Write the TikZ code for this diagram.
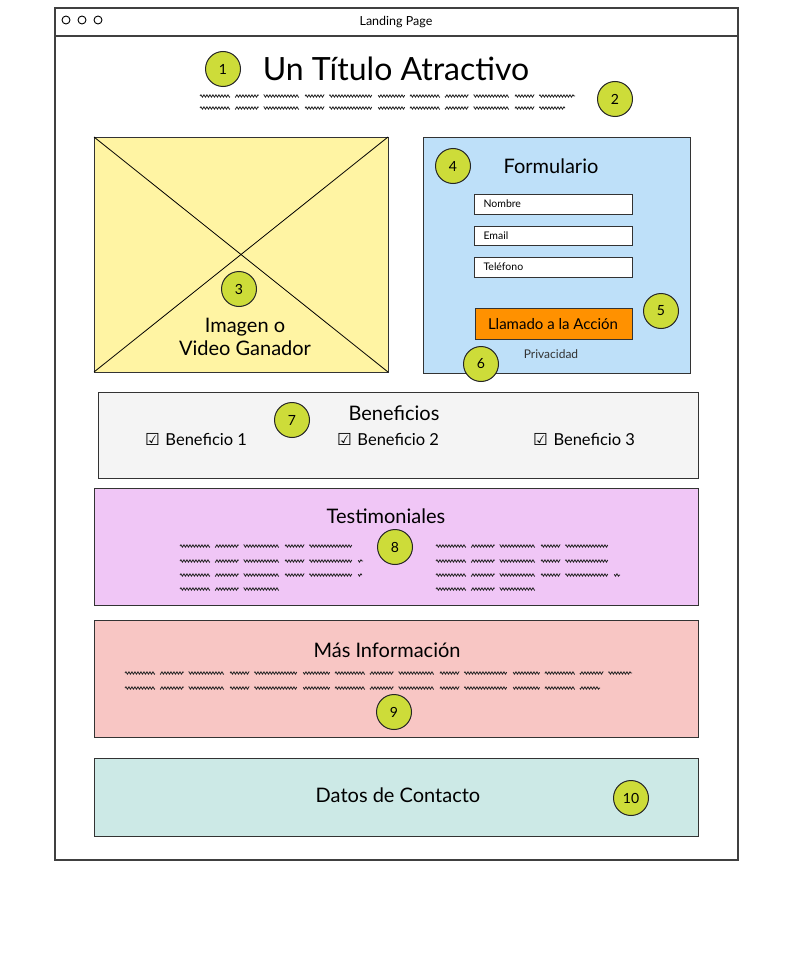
\documentclass[tikz,border=0pt]{standalone}
\usepackage{fontspec}
\setmainfont{Lato}
\newfontfamily\symfont{DejaVu Sans}
\usetikzlibrary{decorations.pathmorphing}
\definecolor{badgegreen}{HTML}{CDDC39}
\definecolor{imgyellow}{HTML}{FFF4A3}
\definecolor{formblue}{HTML}{BEE0F9}
\definecolor{ctaorange}{HTML}{FF9100}
\definecolor{benefgray}{HTML}{F4F4F4}
\definecolor{testipink}{HTML}{F0C6F6}
\definecolor{inforose}{HTML}{F8C6C4}
\definecolor{contactmint}{HTML}{CCE9E6}
\begin{document}
\begin{tikzpicture}[x=1pt,y=-1pt,
    box/.style={draw=black!80,line width=1pt},
    badge/.style={circle,draw=black!85,fill=badgegreen,line width=1pt,
      minimum size=35pt,inner sep=0pt,font=\fontsize{14}{14}\selectfont},
    field/.style={box,fill=white},
    scribble/.style={draw=black!85,line width=0.8pt,decorate,
      decoration={snake,amplitude=1.2pt,segment length=3pt},
      dash pattern=on 56pt off 10pt on 44pt off 10pt on 66pt off 12pt on 36pt off 10pt on 80pt off 12pt on 50pt off 10pt},
    heading/.style={font=\fontsize{20}{23}\selectfont},
    small/.style={font=\fontsize{10.5}{12}\selectfont}]
  \useasboundingbox (0,0) rectangle (786,955);
  \fill[white] (0,0) rectangle (786,955);
  \draw[line width=1.4pt,black!75] (55,8) rectangle (738,860);
  \draw[line width=1.4pt,black!75] (55,36) -- (738,36);
  \foreach \x in {66,82,98}
    \draw[line width=0.9pt] (\x,20) circle (4);
  \node[font=\fontsize{12.5}{14}\selectfont] (pagetitle) at (396,22) {Landing Page};
  \node[font=\fontsize{32}{36}\selectfont] (title) at (396,69) {Un Título Atractivo};
  \node[badge] (badge1) at (223,69) {1};
  \draw[scribble] (200,96) -- (575,96);
  \draw[scribble] (200,108) -- (565,108);
  \node[badge] (badge2) at (615,99) {2};
  \draw[box,fill=imgyellow] (94,137) rectangle (388,372);
  \draw[line width=0.8pt] (94,137) -- (388,372);
  \draw[line width=0.8pt] (94,372) -- (388,137);
  \node[badge] (badge3) at (239,289) {3};
  \node[heading,align=center] (media) at (245,337) {Imagen o\\Video Ganador};
  \draw[box,fill=formblue] (423,137) rectangle (690,373);
  \node[badge] (badge4) at (453,166) {4};
  \node[heading] (formtitle) at (551,166) {Formulario};
  \draw[field] (474,194) rectangle (632,214);
  \node[anchor=west,small] (name) at (480,204) {Nombre};
  \draw[field] (474,226) rectangle (632,245);
  \node[anchor=west,small] (mail) at (480,236) {Email};
  \draw[field] (474,257) rectangle (632,277);
  \node[anchor=west,small] (phone) at (480,267) {Teléfono};
  \draw[box,fill=ctaorange] (475,308) rectangle (632,339);
  \node[font=\fontsize{15}{17}\selectfont] (cta) at (553,324) {Llamado a la Acción};
  \node[badge] (badge5) at (661,311) {5};
  \node[font=\fontsize{12}{14}\selectfont,text=black!80] (privacy) at (551,354) {Privacidad};
  \node[badge] (badge6) at (481,364) {6};
  \draw[box,fill=benefgray] (98,392) rectangle (698,478);
  \node[heading] (beneftitle) at (394,413) {Beneficios};
  \node[badge] (badge7) at (292,420) {7};
  \foreach \x/\n in {145/1,337/2,533/3}
    \node[anchor=west,font=\fontsize{16.5}{18}\selectfont,inner sep=0pt] (benefit\n) at (\x,439) {{\symfont ☑}\,\,Beneficio \n};
  \draw[box,fill=testipink] (94,488) rectangle (698,605);
  \node[heading] (testititle) at (386,516) {Testimoniales};
  \node[badge] (badge8) at (395,547) {8};
  \draw[scribble] (180,546) -- (358,546);
  \draw[scribble] (180,561) -- (363,561);
  \draw[scribble] (180,575) -- (362,575);
  \draw[scribble] (180,589) -- (285,589);
  \draw[scribble] (436,546) -- (613,546);
  \draw[scribble] (436,561) -- (614,561);
  \draw[scribble] (436,575) -- (620,575);
  \draw[scribble] (436,589) -- (539,589);
  \draw[box,fill=inforose] (94,620) rectangle (698,737);
  \node[heading] (infotitle) at (387,650) {Más Información};
  \draw[scribble] (125,673) -- (632,673);
  \draw[scribble] (125,688) -- (600,688);
  \node[badge] (badge9) at (394,712) {9};
  \draw[box,fill=contactmint] (94,758) rectangle (698,836);
  \node[heading] (contact) at (398,795) {Datos de Contacto};
  \node[badge] (badge10) at (631,798) {10};
\end{tikzpicture}
\end{document}
